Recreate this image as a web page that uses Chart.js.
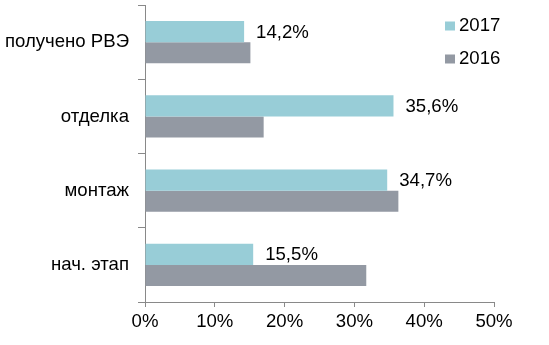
<!DOCTYPE html>
<html>
<head>
<meta charset="utf-8">
<script src="https://cdn.jsdelivr.net/npm/chart.js@4.4.0/dist/chart.umd.min.js"></script>
<style>
  body { margin: 0; background: #fff; }
  #wrap { width: 549px; height: 345px; }
</style>
</head>
<body>
<div id="wrap"><canvas id="canvas" width="549" height="345"></canvas></div>
<script>
// categories, top to bottom
let stages = ['получено РВЭ', 'отделка', 'монтаж', 'нач. этап'];
// shares, % (2017 labelled on the chart, 2016)
let values2017 = [14.2, 35.6, 34.7, 15.5];
let values2016 = [15.1, 17.0, 36.3, 31.7];
let seriesNames = ['2017', '2016'];
let xTicks = [0, 10, 20, 30, 40, 50];

const FONT = { family: '"Liberation Sans", Arial, sans-serif', size: 18.6 };

// labels to the right of the 2017 bars
const valueLabels = {
    id: 'valueLabels',
    afterDatasetsDraw(chart) {
        const ctx = chart.ctx;
        const meta = chart.getDatasetMeta(0);
        ctx.save();
        ctx.font = FONT.size + 'px ' + FONT.family;
        ctx.fillStyle = '#000';
        ctx.textAlign = 'left';
        ctx.textBaseline = 'middle';
        meta.data.forEach((bar, i) => {
            let txt = values2017[i].toFixed(1).replace('.', ',') + '%';
            ctx.fillText(txt, bar.x + 12, bar.y + 1);
        });
        ctx.restore();
    }
};

// legend in the top right corner, stacked
const cornerLegend = {
    id: 'cornerLegend',
    afterDraw(chart) {
        const ctx = chart.ctx;
        ctx.save();
        ctx.font = FONT.size + 'px ' + FONT.family;
        ctx.textAlign = 'left';
        ctx.textBaseline = 'middle';
        chart.data.datasets.forEach((ds, i) => {
            let y = 26 + i * 33;
            ctx.fillStyle = ds.backgroundColor;
            ctx.fillRect(445, y - 4.5, 10, 9);
            ctx.fillStyle = '#000';
            ctx.fillText(ds.label, 459, y);
        });
        ctx.restore();
    }
};

let ctx = document.getElementById('canvas').getContext('2d');
let myChart = new Chart(ctx, {
    type: 'bar',
    data: {
        labels: stages,
        datasets: [{
            label: seriesNames[0],
            data: values2017,
            backgroundColor: '#98CDD7',
            categoryPercentage: 0.57,
            barPercentage: 1.0
        }, {
            label: seriesNames[1],
            data: values2016,
            backgroundColor: '#9399A3',
            categoryPercentage: 0.57,
            barPercentage: 1.0
        }]
    },
    options: {
        indexAxis: 'y',
        responsive: false,
        animation: false,
        layout: { padding: { top: 5, right: 55, left: 0, bottom: 0 } },
        plugins: {
            legend: { display: false },
            tooltip: { enabled: false }
        },
        scales: {
            x: {
                min: 0,
                max: 50,
                afterBuildTicks: (scale) => { scale.ticks = xTicks.map(v => ({ value: v })); },
                afterFit: (scale) => { scale.height = 43; },
                border: { color: '#898989', width: 1 },
                grid: { drawOnChartArea: false, tickLength: 5, color: '#898989' },
                ticks: {
                    color: '#000',
                    font: FONT,
                    padding: 4,
                    maxRotation: 0,
                    callback: v => v + '%'
                }
            },
            y: {
                afterFit: (scale) => {
                    scale.width = 145;
                    scale.paddingTop = 0;
                    scale.paddingBottom = 0;
                },
                border: { color: '#898989', width: 1 },
                grid: { drawOnChartArea: false, tickLength: 7, color: '#898989', offset: true },
                ticks: {
                    color: '#000',
                    font: FONT,
                    padding: 9
                }
            }
        }
    },
    plugins: [valueLabels, cornerLegend]
});
</script>
</body>
</html>
